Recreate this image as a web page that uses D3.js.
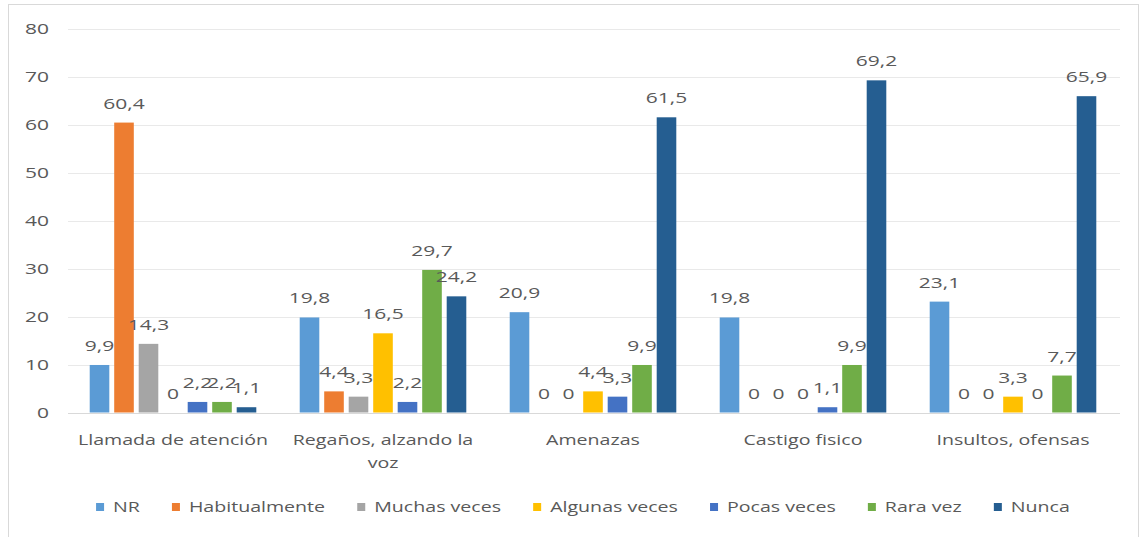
<!DOCTYPE html>
<html>
<head>
<meta charset="utf-8">
<script src="https://cdn.jsdelivr.net/npm/d3@7"></script>
<style>
  html, body { margin: 0; padding: 0; background: #ffffff; }
  svg text { font-family: "Open Sans", sans-serif; fill: #595959; }
</style>
</head>
<body>
<svg id="chart" width="1144" height="537"></svg>
<script>
// Categories (x axis groups)
const categories = ["Llamada de atención", "Regaños, alzando la voz", "Amenazas", "Castigo fisico", "Insultos, ofensas"];

// Series names (legend order) and colours
const seriesNames = ["NR", "Habitualmente", "Muchas veces", "Algunas veces", "Pocas veces", "Rara vez", "Nunca"];
const seriesColors = ["#5B9BD5", "#ED7D31", "#A5A5A5", "#FFC000", "#4472C4", "#70AD47", "#255E91"];

// Percentages per series, one value per category
const nr            = [9.9, 19.8, 20.9, 19.8, 23.1];
const habitualmente = [60.4, 4.4, 0, 0, 0];
const muchasVeces   = [14.3, 3.3, 0, 0, 0];
const algunasVeces  = [0, 16.5, 4.4, 0, 3.3];
const pocasVeces    = [2.2, 2.2, 3.3, 1.1, 0];
const raraVez       = [2.2, 29.7, 9.9, 9.9, 7.7];
const nunca         = [1.1, 24.2, 61.5, 69.2, 65.9];

// Y axis ticks
const yTicks = [0, 10, 20, 30, 40, 50, 60, 70, 80];

const seriesValues = [nr, habitualmente, muchasVeces, algunasVeces, pocasVeces, raraVez, nunca];

// Horizontal text stretch used by the chart's typography
const SX = 1.4;

const svg = d3.select("#chart");

// Outer chart frame
svg.append("rect")
  .attr("x", 8.5).attr("y", 4.5)
  .attr("width", 1130).attr("height", 545)
  .attr("fill", "#ffffff")
  .attr("stroke", "#d9d9d9").attr("stroke-width", 1);

const x0 = d3.scaleBand().domain(categories).range([68, 1118]).paddingInner(0).paddingOuter(0);
const x1 = d3.scaleBand().domain(seriesNames).range([0, x0.bandwidth()]).paddingInner(0.2).paddingOuter(0.886);
const y = d3.scaleLinear().domain([0, 80]).range([412.5, 28.5]);

const fmt = v => String(v).replace(".", ",");

// Gridlines
svg.append("g").selectAll("line")
  .data(yTicks)
  .join("line")
  .attr("x1", 68).attr("x2", 1120)
  .attr("y1", d => Math.round(y(d)) + 0.5).attr("y2", d => Math.round(y(d)) + 0.5)
  .attr("stroke", d => d === 0 ? "#d9d9d9" : "#e9e9e9")
  .attr("stroke-width", 1);

// Y tick labels
svg.append("g").selectAll("text")
  .data(yTicks)
  .join("text")
  .attr("transform", d => `translate(49,${y(d)}) scale(${SX},1)`)
  .attr("text-anchor", "end")
  .attr("dy", "0.35em")
  .style("font-size", "15px")
  .text(d => d);

// Bars and value labels
const rows = categories.map((c, ci) => ({
  category: c,
  items: seriesNames.map((s, si) => ({ series: s, color: seriesColors[si], value: seriesValues[si][ci] }))
}));

const groups = svg.append("g").selectAll("g")
  .data(rows)
  .join("g")
  .attr("transform", d => `translate(${x0(d.category)},0)`);

groups.selectAll("rect")
  .data(d => d.items)
  .join("rect")
  .attr("x", d => x1(d.series))
  .attr("width", x1.bandwidth())
  .attr("y", d => y(d.value))
  .attr("height", d => y(0) - y(d.value))
  .attr("fill", d => d.color);

groups.selectAll("text")
  .data(d => d.items)
  .join("text")
  .attr("transform", d => `translate(${x1(d.series) + x1.bandwidth() / 2},${y(d.value) - 14}) scale(${SX},1)`)
  .attr("text-anchor", "middle")
  .style("font-size", "15px")
  .text(d => fmt(d.value));

// Category labels with word wrapping
const catLabels = svg.append("g").selectAll("text")
  .data(categories)
  .join("text")
  .attr("transform", d => `translate(${x0(d) + x0.bandwidth() / 2},445) scale(${SX},1)`)
  .attr("text-anchor", "middle")
  .style("font-size", "14px");

catLabels.each(function (d) {
  const text = d3.select(this);
  const words = d.split(/\s+/);
  const maxW = 200;
  let line = [];
  let lineNo = 0;
  let tspan = text.append("tspan").attr("x", 0).attr("dy", 0);
  words.forEach(w => {
    line.push(w);
    tspan.text(line.join(" "));
    if (tspan.node().getComputedTextLength() * SX > maxW && line.length > 1) {
      line.pop();
      tspan.text(line.join(" "));
      line = [w];
      lineNo += 1;
      tspan = text.append("tspan").attr("x", 0).attr("dy", "1.65em").text(w);
    }
  });
});

// Legend
const legend = svg.append("g");
const items = legend.selectAll("g")
  .data(seriesNames)
  .join("g");

items.append("rect")
  .attr("width", 8).attr("height", 8)
  .attr("y", 503)
  .attr("fill", (d, i) => seriesColors[i]);

items.append("text")
  .attr("y", 0)
  .style("font-size", "14px")
  .text(d => d);

let cursor = 0;
const positions = [];
items.each(function () {
  const t = d3.select(this).select("text").node();
  const w = t.getComputedTextLength() * SX;
  positions.push(cursor);
  cursor += 8 + 9 + w + 32;
});
const totalW = cursor - 32;
const startX = 583 - totalW / 2;

items.each(function (d, i) {
  const g = d3.select(this);
  const x = startX + positions[i];
  g.select("rect").attr("x", x);
  g.select("text").attr("transform", `translate(${x + 17},512) scale(${SX},1)`);
});
</script>
</body>
</html>
